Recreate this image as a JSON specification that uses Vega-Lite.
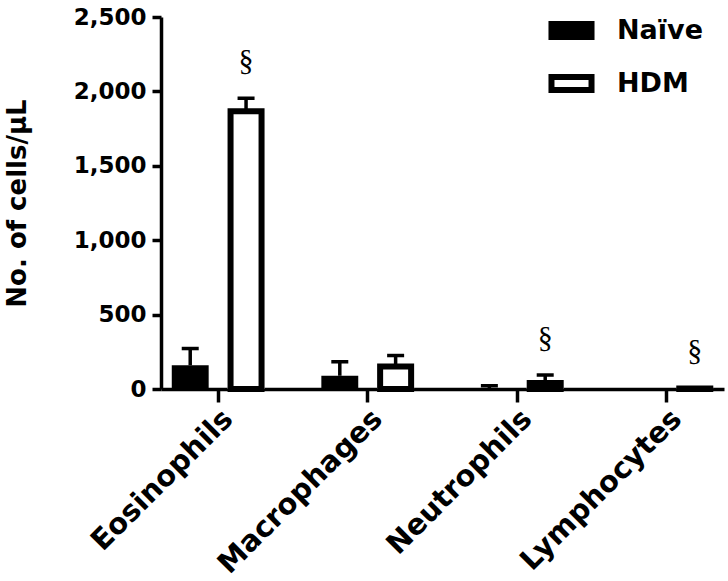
{
  "$schema": "https://vega.github.io/schema/vega-lite/v6.json",
  "width": 563,
  "height": 372,
  "autosize": {"type": "none"},
  "padding": {"left": 161, "top": 17, "right": 4, "bottom": 192},
  "background": "white",
  "config": {
    "view": {"stroke": null},
    "font": "DejaVu Sans",
    "axis": {"domainColor": "black", "domainWidth": 3.5, "tickColor": "black", "tickWidth": 3.5, "grid": false, "labelFont": "DejaVu Sans", "labelFontWeight": "bold", "labelColor": "black", "titleColor": "black", "titleFont": "DejaVu Sans", "titleFontWeight": "bold", "labelLimit": 0}
  },
  "data": {
    "values": [
      {"cell": "Eosinophils", "group": "Naïve", "mean": 159, "upper": 272, "sig": null},
      {"cell": "Eosinophils", "group": "HDM", "mean": 1867, "upper": 1954, "sig": "§"},
      {"cell": "Macrophages", "group": "Naïve", "mean": 89, "upper": 183, "sig": null},
      {"cell": "Macrophages", "group": "HDM", "mean": 152, "upper": 225, "sig": null},
      {"cell": "Neutrophils", "group": "Naïve", "mean": 3, "upper": 22, "sig": null},
      {"cell": "Neutrophils", "group": "HDM", "mean": 40, "upper": 94, "sig": "§"},
      {"cell": "Lymphocytes", "group": "Naïve", "mean": 1, "upper": null, "sig": null},
      {"cell": "Lymphocytes", "group": "HDM", "mean": 3, "upper": 6, "sig": "§"}
    ]
  },
  "encoding": {
    "x": {"field": "cell", "type": "nominal", "sort": ["Eosinophils", "Macrophages", "Neutrophils", "Lymphocytes"],
      "scale": {"paddingInner": 0.38, "paddingOuter": 0.072},
      "axis": {"title": null, "labelAngle": -45, "labelAlign": "right", "labelBaseline": "top", "labelFontSize": 29, "tickSize": 13, "labelPadding": 2, "labelLimit": 0}},
    "xOffset": {"field": "group", "type": "nominal", "sort": ["Naïve", "HDM"], "scale": {"domain": ["Naïve", "HDM"], "paddingInner": 0.339, "paddingOuter": 0}}
  },
  "layer": [
    {
      "mark": {"type": "bar", "strokeWidth": 0},
      "encoding": {
        "y": {"field": "mean", "type": "quantitative", "scale": {"domain": [0, 2500], "nice": false},
          "axis": {"title": "No. of cells/μL", "values": [0, 500, 1000, 1500, 2000, 2500], "format": ",d", "labelFontSize": 23, "titleFontSize": 26, "tickSize": 9, "labelPadding": 6, "titlePadding": 43}},
        "fill": {"field": "group", "type": "nominal", "sort": ["Naïve", "HDM"], "scale": {"domain": ["Naïve", "HDM"], "range": ["black", "white"]},
          "legend": {"title": null, "orient": "none", "legendX": 397, "legendY": 0, "padding": 0, "symbolType": "M-3.08,-1H3.08V1H-3.08Z", "symbolSize": 169, "symbolStrokeColor": "black", "symbolStrokeWidth": 6, "symbolOpacity": 1, "labelFont": "DejaVu Sans", "labelFontSize": 27, "labelFontWeight": "bold", "labelColor": "black", "labelOffset": 32, "rowPadding": 16}}
      }
    },
    {
      "transform": [{"filter": "datum.group === 'HDM'"}],
      "mark": {"type": "bar", "fill": "white", "stroke": "black", "strokeWidth": 6, "width": 31},
      "encoding": {
        "y": {"field": "mean", "type": "quantitative", "scale": {"domain": [0, 2500], "nice": false},
          "axis": {"title": "No. of cells/μL", "values": [0, 500, 1000, 1500, 2000, 2500], "format": ",d", "labelFontSize": 23, "titleFontSize": 26, "tickSize": 9, "labelPadding": 6, "titlePadding": 43}}
      }
    },
    {
      "transform": [{"filter": "datum.upper != null"}],
      "mark": {"type": "rule", "color": "black", "strokeWidth": 3.5},
      "encoding": {
        "y": {"field": "mean", "type": "quantitative", "scale": {"domain": [0, 2500], "nice": false},
          "axis": {"title": "No. of cells/μL", "values": [0, 500, 1000, 1500, 2000, 2500], "format": ",d", "labelFontSize": 23, "titleFontSize": 26, "tickSize": 9, "labelPadding": 6, "titlePadding": 43}},
        "y2": {"field": "upper"}
      }
    },
    {
      "transform": [{"filter": "datum.upper != null"}],
      "mark": {"type": "tick", "color": "black", "size": 17, "thickness": 3.5, "opacity": 1},
      "encoding": {
        "y": {"field": "upper", "type": "quantitative", "scale": {"domain": [0, 2500], "nice": false},
          "axis": {"title": "No. of cells/μL", "values": [0, 500, 1000, 1500, 2000, 2500], "format": ",d", "labelFontSize": 23, "titleFontSize": 26, "tickSize": 9, "labelPadding": 6, "titlePadding": 43}}
      }
    },
    {
      "transform": [{"filter": "datum.sig != null"}],
      "mark": {"type": "text", "font": "Liberation Serif", "fontSize": 30, "color": "black", "baseline": "middle", "align": "center", "dy": -37},
      "encoding": {
        "y": {"field": "upper", "type": "quantitative", "scale": {"domain": [0, 2500], "nice": false},
          "axis": {"title": "No. of cells/μL", "values": [0, 500, 1000, 1500, 2000, 2500], "format": ",d", "labelFontSize": 23, "titleFontSize": 26, "tickSize": 9, "labelPadding": 6, "titlePadding": 43}},
        "text": {"field": "sig"}
      }
    }
  ]
}
